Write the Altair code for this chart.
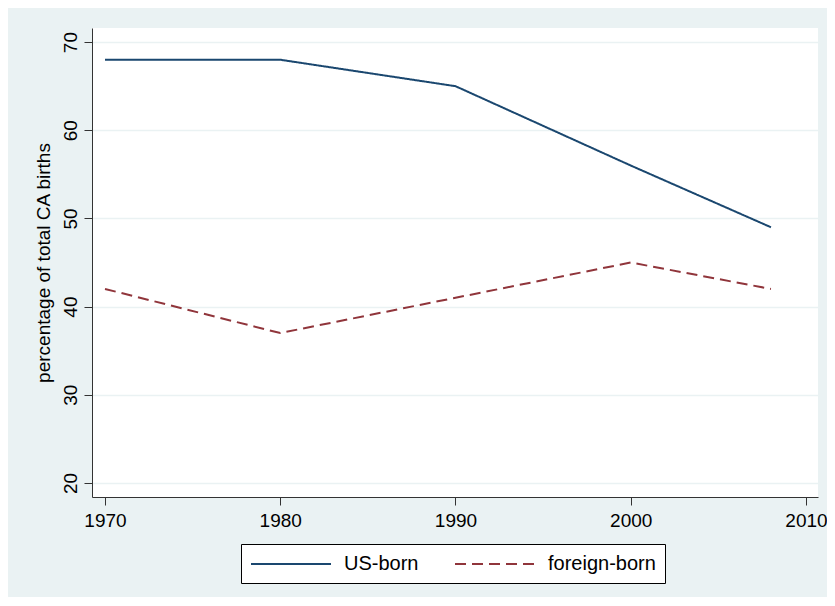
import altair as alt
import pandas as pd

years = [1970, 1980, 1990, 2000, 2008]
us_born = [68, 68, 65, 56, 49]
foreign_born = [42, 37, 41, 45, 42]
series_names = ["US-born", "foreign-born"]
x_ticks = [1970, 1980, 1990, 2000, 2010]
y_ticks = [20, 30, 40, 50, 60, 70]

rows = []
for y, v in zip(years, us_born):
    rows.append({"year": y, "value": v, "series": series_names[0]})
for y, v in zip(years, foreign_born):
    rows.append({"year": y, "value": v, "series": series_names[1]})
df = pd.DataFrame(rows)

FONT = "Liberation Sans"


def make_legend():
    return alt.Legend(title=None, orient="none", legendX=149, legendY=516,
                      direction="horizontal", symbolType="M-1,0H7",
                      symbolSize=400, symbolStrokeWidth=2,
                      labelFontSize=20, labelFont=FONT,
                      labelColor="#000000", labelOffset=72,
                      columnPadding=32, padding=9,
                      strokeColor="#000000", fillColor="#FFFFFF")


chart = alt.Chart(df).mark_line(strokeWidth=2).encode(
    x=alt.X("year:Q",
            scale=alt.Scale(domain=[1969.258, 2010.685], nice=False, zero=False),
            axis=alt.Axis(values=x_ticks, format="d", title=None, grid=False,
                          tickSize=8, labelPadding=6, labelFontSize=19,
                          domainColor="#333333", tickColor="#333333",
                          labelColor="#000000", labelFont=FONT)),
    y=alt.Y("value:Q",
            scale=alt.Scale(domain=[18.4, 71.6], nice=False, zero=False),
            axis=alt.Axis(values=y_ticks, title="percentage of total CA births",
                          grid=True, gridColor="#EAF2F3", gridWidth=1.5,
                          tickSize=8, labelAngle=-90, labelAlign="center",
                          labelBaseline="bottom", labelPadding=4,
                          labelFontSize=19, titleFontSize=19,
                          titleFontWeight="normal", titlePadding=8,
                          domainColor="#333333", tickColor="#333333",
                          labelColor="#000000", titleColor="#000000",
                          labelFont=FONT, titleFont=FONT)),
    color=alt.Color("series:N",
                    scale=alt.Scale(domain=series_names, range=["#1A476F", "#90353B"]),
                    legend=make_legend()),
    strokeDash=alt.StrokeDash("series:N",
                              scale=alt.Scale(domain=series_names, range=[[1, 0], [11, 6]]),
                              legend=make_legend()),
).properties(
    width=726,
    height=469,
    autosize=alt.AutoSizeParams(type="none"),
    padding={"left": 84, "top": 20, "right": 9, "bottom": 100},
    background="#EAF2F3",
).configure_view(stroke=None, fill="#FFFFFF")

chart.save("out.html", embed_options={"renderer": "svg", "actions": False})
